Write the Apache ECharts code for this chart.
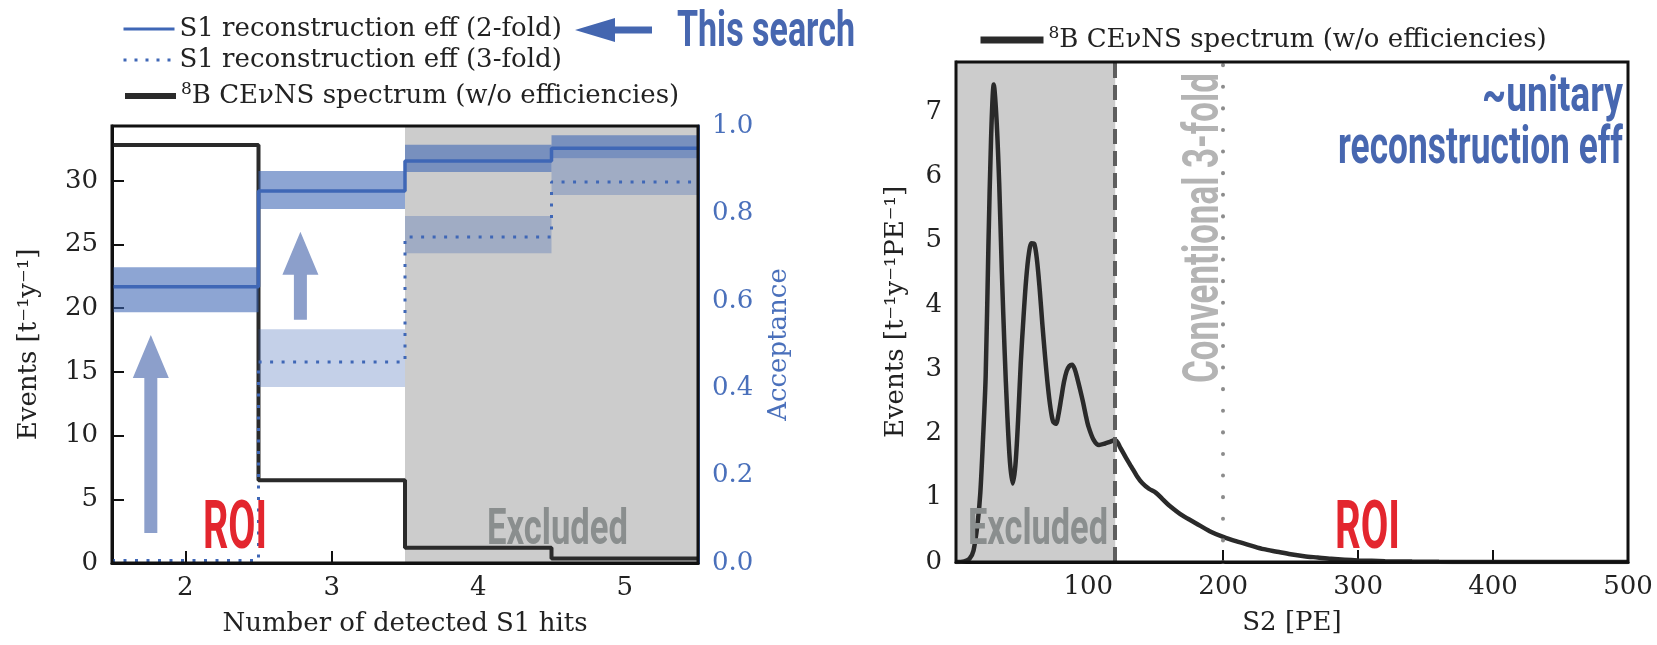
<!DOCTYPE html>
<html><head><meta charset="utf-8">
<script src="https://cdn.jsdelivr.net/npm/echarts@6/dist/echarts.min.js"></script>
<style>html,body{margin:0;padding:0;background:#fff}#c{width:1657px;height:645px}</style>
</head><body><div id="c"></div>
<script>
// ---------- Left panel data ----------
const binEdges = [1.5, 2.5, 3.5, 4.5, 5.5];
const hitsTicks = [2, 3, 4, 5];
const spectrumHits = [32.8, 6.5, 1.2, 0.35];
const eff2 = [0.632, 0.851, 0.920, 0.949];
const eff2Lo = [0.574, 0.810, 0.895, 0.926];
const eff2Hi = [0.677, 0.897, 0.957, 0.979];
const eff3 = [0.006, 0.460, 0.746, 0.872];
const eff3Lo = [null, 0.403, 0.709, 0.842];
const eff3Hi = [null, 0.535, 0.794, 0.926];
const excludedHits = [3.5, 5.5];
const arrowX = [1.765, 2.786];
const arrowFrom = [2.36, 19.1];
const arrowTo = [17.9, 26.0];
const eventsTicks = [0, 5, 10, 15, 20, 25, 30];
const accTicks = [0, 0.2, 0.4, 0.6, 0.8, 1.0];

// ---------- Right panel data ----------
const s2X = [2, 8, 12, 15, 18, 20, 22, 24, 26, 28, 30, 32, 34, 36, 38, 40, 42, 44, 46, 48, 50, 52, 54, 56, 58, 60, 62, 64, 66, 68, 70, 72, 74, 76, 78, 80, 82, 84, 86, 88, 90, 92, 94, 96, 98, 100, 104, 108, 112, 116, 120, 124, 128, 132, 136, 140, 145, 150, 155, 160, 170, 180, 190, 200, 210, 220, 230, 240, 250, 260, 270, 280, 290, 300, 320, 340, 360, 380, 400, 450, 500];
const s2Y = [0, 0.01, 0.05, 0.18, 0.6, 1.07, 1.9, 2.9, 4.9, 6.6, 7.43, 6.9, 5.9, 4.5, 3.3, 2.3, 1.55, 1.22, 1.5, 2.2, 3.1, 3.8, 4.4, 4.8, 4.96, 4.95, 4.7, 4.25, 3.7, 3.2, 2.75, 2.4, 2.18, 2.15, 2.3, 2.55, 2.8, 2.97, 3.05, 3.07, 3.0, 2.85, 2.68, 2.5, 2.3, 2.12, 1.9, 1.82, 1.84, 1.87, 1.9, 1.77, 1.62, 1.48, 1.34, 1.23, 1.14, 1.08, 0.98, 0.88, 0.72, 0.6, 0.48, 0.39, 0.32, 0.26, 0.2, 0.16, 0.12, 0.09, 0.07, 0.05, 0.035, 0.025, 0.012, 0.006, 0.003, 0.001, 0, 0, 0];
const s2Ticks = [100, 200, 300, 400, 500];
const rateTicks = [0, 1, 2, 3, 4, 5, 6, 7];
const excludedS2 = [2, 120];
const conventionalS2 = 200;

const names = {
  eff2: 'S1 reconstruction eff (2-fold)',
  eff3: 'S1 reconstruction eff (3-fold)',
  specL: '{sup|8}B CEνNS spectrum (w/o efficiencies)',
  specR: '{sup|8}B CEνNS spectrum (w/o efficiencies)'
};

const BLUE = '#3f67b6';
const BLACK = '#2a2a2a';
const SERIF = 'DejaVu Serif';

function steps(vals) {
  const d = vals.map((v, i) => [binEdges[i], v]);
  d.push([binEdges[binEdges.length - 1], vals[vals.length - 1]]);
  return d;
}
function bands(lo, hi) {
  const d = [];
  lo.forEach((l, i) => { if (l !== null) d.push([binEdges[i], binEdges[i + 1], l, hi[i]]); });
  return d;
}
function bandRender(color) {
  return function (params, api) {
    const p0 = api.coord([api.value(0), api.value(3)]);
    const p1 = api.coord([api.value(1), api.value(2)]);
    return { type: 'rect', shape: { x: p0[0], y: p0[1], width: p1[0] - p0[0], height: p1[1] - p0[1] }, style: { fill: color } };
  };
}
function arrowRender(params, api) {
  const tail = api.coord([api.value(0), api.value(1)]);
  const tip = api.coord([api.value(0), api.value(2)]);
  const x = tail[0], hw = 18, sw = 6.5, hl = 43;
  const base = tip[1] + hl;
  return { type: 'polygon', shape: { points: [[x - sw, tail[1]], [x - sw, base], [x - hw, base], [x, tip[1]], [x + hw, base], [x + sw, base], [x + sw, tail[1]]] }, style: { fill: '#8c9fcb' } };
}

const axisText = { fontFamily: SERIF, fontSize: 26, color: '#222' };
const legendBase = { orient: 'vertical', padding: 0, itemGap: 0, selectedMode: false, itemHeight: 14,
  formatter: n => names[n],
  textStyle: { fontFamily: SERIF, fontSize: 26, color: '#222', lineHeight: 30,
    rich: { sup: { fontFamily: SERIF, fontSize: 17, verticalAlign: 'top', lineHeight: 30, padding: [0, 0, 12, 0] } } } };
const noSym = { opacity: 0 };

const chart = echarts.init(document.getElementById('c'), null, { renderer: 'canvas' });
const option = {
  animation: false,
  backgroundColor: '#fff',
  grid: [
    { left: 112, top: 126, width: 586, height: 437, show: true, borderColor: '#111', borderWidth: 3, z: 10, backgroundColor: 'transparent' },
    { left: 956, top: 62, width: 672, height: 500, show: true, borderColor: '#111', borderWidth: 3, z: 10, backgroundColor: 'transparent' }
  ],
  legend: [
    Object.assign({}, legendBase, { left: 122, top: 14, itemWidth: 51, data: [{ name: 'eff2', itemStyle: noSym, lineStyle: { color: BLUE, width: 3, type: 'solid' } }] }),
    Object.assign({}, legendBase, { left: 122, top: 45, itemWidth: 51, data: [{ name: 'eff3', itemStyle: noSym, lineStyle: { color: BLUE, width: 3, type: [3, 8] } }] }),
    Object.assign({}, legendBase, { left: 122, top: 81, itemWidth: 51, data: [{ name: 'specL', itemStyle: noSym, lineStyle: { color: BLACK, width: 6, type: 'solid' } }] }),
    Object.assign({}, legendBase, { left: 977, top: 25, itemWidth: 63, data: [{ name: 'specR', itemStyle: noSym, lineStyle: { color: BLACK, width: 7, type: 'solid' } }] })
  ],
  xAxis: [
    { type: 'value', gridIndex: 0, min: binEdges[0], max: binEdges[binEdges.length - 1],
      axisLine: { lineStyle: { color: '#111', width: 3 } },
      axisTick: { inside: true, length: 12, lineStyle: { color: '#111', width: 2 }, customValues: hitsTicks },
      axisLabel: Object.assign({ margin: 12, customValues: hitsTicks }, axisText),
      splitLine: { show: false },
      name: 'Number of detected S1 hits', nameLocation: 'middle', nameGap: 48, nameTextStyle: axisText },
    { type: 'value', gridIndex: 1, min: excludedS2[0], max: 500,
      axisLine: { lineStyle: { color: '#111', width: 3 } },
      axisTick: { inside: true, length: 12, lineStyle: { color: '#111', width: 2 }, customValues: s2Ticks },
      axisLabel: Object.assign({ margin: 12, customValues: s2Ticks }, axisText),
      splitLine: { show: false },
      name: 'S2 [PE]', nameLocation: 'middle', nameGap: 48, nameTextStyle: axisText }
  ],
  yAxis: [
    { type: 'value', gridIndex: 0, min: 0, max: 34.3, position: 'left',
      axisLine: { show: true, lineStyle: { color: '#111', width: 3 } },
      axisTick: { show: true, inside: true, length: 12, lineStyle: { color: '#111', width: 2 }, customValues: eventsTicks },
      axisLabel: Object.assign({ margin: 14, customValues: eventsTicks }, axisText),
      splitLine: { show: false },
      name: 'Events [t⁻¹y⁻¹]', nameLocation: 'middle', nameRotate: 90, nameGap: 70, nameTextStyle: axisText },
    { type: 'value', gridIndex: 0, min: 0, max: 1, position: 'right',
      axisLine: { show: true, lineStyle: { color: BLUE, width: 3 } },
      axisTick: { show: true, inside: true, length: 12, lineStyle: { color: BLUE, width: 2 }, customValues: accTicks },
      axisLabel: Object.assign({}, axisText, { color: '#4a70bb', margin: 14, customValues: accTicks, formatter: v => v.toFixed(1) }),
      splitLine: { show: false },
      name: 'Acceptance', nameLocation: 'middle', nameRotate: 90, nameGap: 68, nameTextStyle: Object.assign({}, axisText, { color: '#4a70bb' }) },
    { type: 'value', gridIndex: 1, min: 0, max: 7.78, position: 'left',
      axisLine: { show: true, lineStyle: { color: '#111', width: 3 } },
      axisTick: { show: true, inside: true, length: 12, lineStyle: { color: '#111', width: 2 }, customValues: rateTicks },
      axisLabel: Object.assign({ margin: 14, customValues: rateTicks }, axisText),
      splitLine: { show: false },
      name: 'Events [t⁻¹y⁻¹PE⁻¹]', nameLocation: 'middle', nameRotate: 90, nameGap: 47, nameTextStyle: axisText }
  ],
  series: [
    // left: excluded region
    { type: 'line', xAxisIndex: 0, yAxisIndex: 0, data: [], z: 1, silent: true,
      markArea: { silent: true, itemStyle: { color: '#cccccc' }, data: [[{ xAxis: excludedHits[0] }, { xAxis: excludedHits[1] }]] } },
    { name: 'specL', type: 'line', xAxisIndex: 0, yAxisIndex: 0, step: 'end', data: steps(spectrumHits), showSymbol: false, symbol: 'none', z: 2,
      lineStyle: { color: BLACK, width: 4 }, itemStyle: { color: BLACK } },
    { type: 'custom', xAxisIndex: 0, yAxisIndex: 1, data: bands(eff3Lo, eff3Hi), renderItem: bandRender('rgba(59,100,180,0.3)'), z: 3, silent: true,
      encode: { x: [0, 1], y: [2, 3] } },
    { type: 'custom', xAxisIndex: 0, yAxisIndex: 1, data: bands(eff2Lo, eff2Hi), renderItem: bandRender('rgba(59,100,180,0.58)'), z: 3, silent: true,
      encode: { x: [0, 1], y: [2, 3] } },
    { name: 'eff3', type: 'line', xAxisIndex: 0, yAxisIndex: 1, step: 'end', data: steps(eff3), symbol: 'none', z: 4,
      lineStyle: { color: BLUE, width: 3, type: [3, 8.5] }, itemStyle: { color: BLUE } },
    { name: 'eff2', type: 'line', xAxisIndex: 0, yAxisIndex: 1, step: 'end', data: steps(eff2), symbol: 'none', z: 4,
      lineStyle: { color: BLUE, width: 3.5 }, itemStyle: { color: BLUE } },
    { type: 'custom', xAxisIndex: 0, yAxisIndex: 0, data: arrowX.map((x, i) => [x, arrowFrom[i], arrowTo[i]]), renderItem: arrowRender, z: 5, silent: true,
      encode: { x: 0, y: [1, 2] } },
    // right panel
    { type: 'line', xAxisIndex: 1, yAxisIndex: 2, data: [], z: 1, silent: true,
      markArea: { silent: true, itemStyle: { color: '#cccccc' }, data: [[{ xAxis: excludedS2[0] }, { xAxis: excludedS2[1] }]] } },
    { type: 'line', xAxisIndex: 1, yAxisIndex: 2, data: [], z: 2, silent: true,
      markLine: { silent: true, symbol: 'none', label: { show: false },
        data: [
          { xAxis: excludedS2[1], lineStyle: { color: '#5e5e5e', width: 4, type: [15, 7] } },
          { xAxis: conventionalS2, lineStyle: { color: '#8c8c8c', width: 4, type: [0.1, 21.5], cap: 'round' } }
        ] } },
    { name: 'specR', type: 'line', xAxisIndex: 1, yAxisIndex: 2, data: s2X.map((x, i) => [x, s2Y[i]]), symbol: 'none', smooth: 0.3, z: 3,
      lineStyle: { color: BLACK, width: 4.5 }, itemStyle: { color: BLACK } }
  ]
};
chart.setOption(option);

// ----- condensed-bold annotation texts -----
const ctx = document.createElement('canvas').getContext('2d');
const CF = 'Roboto';
const VOFF = 0.12;
function ann(txt, color, capH, boxW, x, capTop, align, rot) {
  const fs = capH / 0.711;
  ctx.font = 'bold ' + fs + 'px ' + CF;
  const w = ctx.measureText(txt).width;
  const el = { type: 'text', z: 100, scaleX: boxW / w, rotation: rot || 0,
    style: { text: txt, font: 'bold ' + fs + 'px ' + CF, fill: color, align: align || 'left', verticalAlign: 'middle' } };
  if (!rot) { el.x = x; el.y = capTop + capH / 2 + VOFF * fs; }
  return { el, fs };
}
const g = [];
g.push(ann('This search', '#4767b0', 36, 178, 677, 9).el);
g.push(ann('ROI', '#e3262e', 48, 64, 203, 499).el);
g.push(ann('ROI', '#e3262e', 47, 65, 1335, 500).el);
g.push(ann('Excluded', '#8a8e8e', 35, 141, 487, 508).el);
g.push(ann('Excluded', '#8a8e8e', 35, 140, 968, 508).el);
g.push(ann('~unitary', '#4767b0', 36, 141, 1623, 74, 'right').el);
g.push(ann('reconstruction eff', '#4767b0', 37, 285, 1623, 125, 'right').el);
const conv = ann('Conventional 3-fold', '#b4b4b4', 36, 310, 0, 0, 'left', Math.PI / 2);
conv.el.x = 1199 + VOFF * conv.fs; conv.el.y = 383;
g.push(conv.el);
// arrow pointing at the 2-fold legend entry
g.push({ type: 'polygon', z: 100, shape: { points: [[575, 30], [615, 18], [615, 26.5], [652, 26.5], [652, 33.5], [615, 33.5], [615, 42]] }, style: { fill: '#4466b0' } });
chart.setOption({ graphic: g });
</script>
</body></html>
